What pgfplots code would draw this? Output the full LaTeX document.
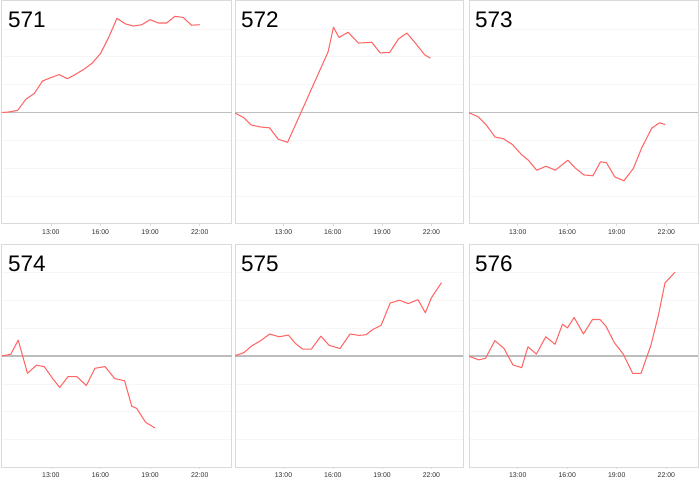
\documentclass[border=0pt]{standalone}
\usepackage{fontspec}
\setmainfont{Liberation Sans}
\usepackage{pgfplots}
\pgfplotsset{compat=1.18}
\definecolor{linec}{HTML}{FF6666}
\definecolor{framec}{HTML}{DADADA}
\definecolor{gridc}{HTML}{F6F6F6}
\definecolor{zeroc}{HTML}{BDBDBD}
\definecolor{tickc}{HTML}{303030}
\pgfplotsset{
  panel/.style={
    scale only axis, height=223pt,
    xmin=10.05, xmax=23.92, ymin=-4, ymax=4,
    xtick={13,16,19,22}, xticklabels={13:00,16:00,19:00,22:00},
    ytick={-3,-2,-1,1,2,3}, yticklabels={},
    ymajorgrids=true,
    major grid style={draw=gridc, line width=0.7pt},
    extra y ticks={0}, extra y tick labels={},
    extra y tick style={ymajorgrids=true, major grid style={draw=zeroc, line width=1.2pt}, ytick style={draw=none}},
    axis line style={draw=framec, line width=1pt},
    xtick style={draw=framec, line width=0.6pt},
    ytick style={draw=none},
    tick align=outside, major tick length=2pt,
    xtick pos=bottom,
    ticklabel style={font=\fontsize{6.9}{7}\selectfont, text=tickc},
  },
  rl/.style={draw=linec, line width=1.05pt, mark=none, line join=round},
}
\newcommand{\ptitle}[1]{\node[anchor=base west, inner sep=0pt, xshift=6pt, yshift=-27pt, font=\fontsize{22.5}{23}\selectfont] at (rel axis cs:0,1) {#1};}
\begin{document}
\begin{tikzpicture}
\useasboundingbox[fill=white] (0,0) rectangle (700pt,484pt);
% 571
\begin{axis}[panel, width=229.5pt, at={(2pt,483pt)}, anchor=north west]
\addplot[rl] coordinates {(10.0,0) (10.5,0.02) (11.0,0.08) (11.5,0.48) (12.0,0.68) (12.5,1.13) (13.0,1.25) (13.5,1.36) (14.0,1.21) (14.5,1.37) (15.0,1.55) (15.5,1.77) (16.0,2.11) (16.5,2.70) (17.0,3.38) (17.5,3.18) (18.0,3.10) (18.5,3.15) (19.0,3.33) (19.5,3.21) (20.0,3.21) (20.5,3.45) (21.0,3.41) (21.5,3.13) (22.0,3.15)};
\ptitle{571}
\end{axis}
% 572
\begin{axis}[panel, width=228pt, at={(235pt,483pt)}, anchor=north west]
\addplot[rl] coordinates {(10.00,0) (10.59,-0.19) (11.04,-0.45) (11.61,-0.52) (12.15,-0.55) (12.68,-0.96) (13.25,-1.07) (15.71,2.17) (16.04,3.06) (16.38,2.69) (16.93,2.88) (17.56,2.49) (18.37,2.52) (18.88,2.14) (19.45,2.15) (20.00,2.64) (20.51,2.85) (21.06,2.46) (21.59,2.07) (21.93,1.95)};
\ptitle{572}
\end{axis}
% 573
\begin{axis}[panel, width=229pt, at={(469pt,483pt)}, anchor=north west]
\addplot[rl] coordinates {(10.00,0) (10.59,-0.15) (11.06,-0.42) (11.63,-0.88) (12.13,-0.94) (12.68,-1.15) (13.23,-1.51) (13.64,-1.71) (14.15,-2.07) (14.72,-1.93) (15.28,-2.07) (15.63,-1.90) (16.04,-1.71) (16.48,-1.99) (17.01,-2.24) (17.56,-2.27) (18.01,-1.77) (18.37,-1.80) (18.88,-2.31) (19.43,-2.45) (20.00,-2.01) (20.51,-1.27) (21.12,-0.56) (21.59,-0.37) (21.93,-0.43)};
\ptitle{573}
\end{axis}
% 574
\begin{axis}[panel, width=229.5pt, at={(2pt,239.5pt)}, anchor=north west]
\addplot[rl] coordinates {(10.00,0) (10.58,0.06) (11.03,0.57) (11.59,-0.62) (12.13,-0.33) (12.60,-0.38) (13.14,-0.83) (13.54,-1.13) (14.04,-0.74) (14.57,-0.74) (15.15,-1.06) (15.67,-0.44) (16.28,-0.38) (16.86,-0.81) (17.46,-0.89) (17.89,-1.80) (18.19,-1.88) (18.73,-2.38) (19.29,-2.58)};
\ptitle{574}
\end{axis}
% 575
\begin{axis}[panel, width=228pt, at={(235pt,239.5pt)}, anchor=north west]
\addplot[rl] coordinates {(10.00,0) (10.59,0.12) (11.06,0.36) (11.61,0.55) (12.16,0.79) (12.73,0.69) (13.30,0.75) (13.71,0.46) (14.15,0.25) (14.70,0.25) (15.27,0.71) (15.78,0.38) (16.44,0.27) (17.05,0.79) (17.58,0.74) (18.02,0.76) (18.43,0.95) (18.94,1.10) (19.49,1.90) (20.06,2.00) (20.59,1.88) (21.18,2.02) (21.63,1.55) (21.99,2.08) (22.61,2.63)};
\ptitle{575}
\end{axis}
% 576
\begin{axis}[panel, width=229pt, at={(469pt,239.5pt)}, anchor=north west]
\addplot[rl] coordinates {(10.00,0) (10.65,-0.14) (11.05,-0.08) (11.62,0.55) (12.17,0.27) (12.71,-0.32) (13.24,-0.42) (13.62,0.33) (14.13,0.07) (14.70,0.69) (15.26,0.42) (15.71,1.14) (16.01,1.01) (16.42,1.38) (16.98,0.79) (17.53,1.31) (17.98,1.31) (18.34,1.07) (18.85,0.48) (19.39,0.07) (19.96,-0.62) (20.47,-0.62) (21.07,0.39) (21.52,1.46) (21.92,2.62) (22.53,3.01)};
\ptitle{576}
\end{axis}
\end{tikzpicture}
\end{document}
